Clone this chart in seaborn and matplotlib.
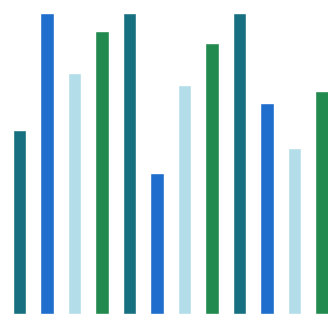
import matplotlib
matplotlib.use("Agg")
import matplotlib.pyplot as plt
import seaborn as sns
import pandas as pd

categories = [f"C{i+1}" for i in range(12)]
values = [61, 100, 80, 94, 100, 47, 76, 90, 100, 70, 55, 74]
groups = ["teal", "blue", "light", "green"] * 3
palette = {"teal": "#17707f", "blue": "#1f6dcc", "light": "#b2dde9", "green": "#228a4e"}

df = pd.DataFrame({"cat": categories, "val": values, "grp": groups})

sns.set_style("white")
fig = plt.figure(figsize=(3.28, 3.14), dpi=100)
ax = fig.add_axes([0, 0, 1, 1])
sns.barplot(data=df, x="cat", y="val", hue="grp", palette=palette, dodge=False,
            width=0.48, legend=False, ax=ax, saturation=1)
ax.set_xlim(-0.709, 11.218)
ax.set_ylim(0, 104.3)
ax.axis("off")
fig.savefig("out.png", dpi=100)
